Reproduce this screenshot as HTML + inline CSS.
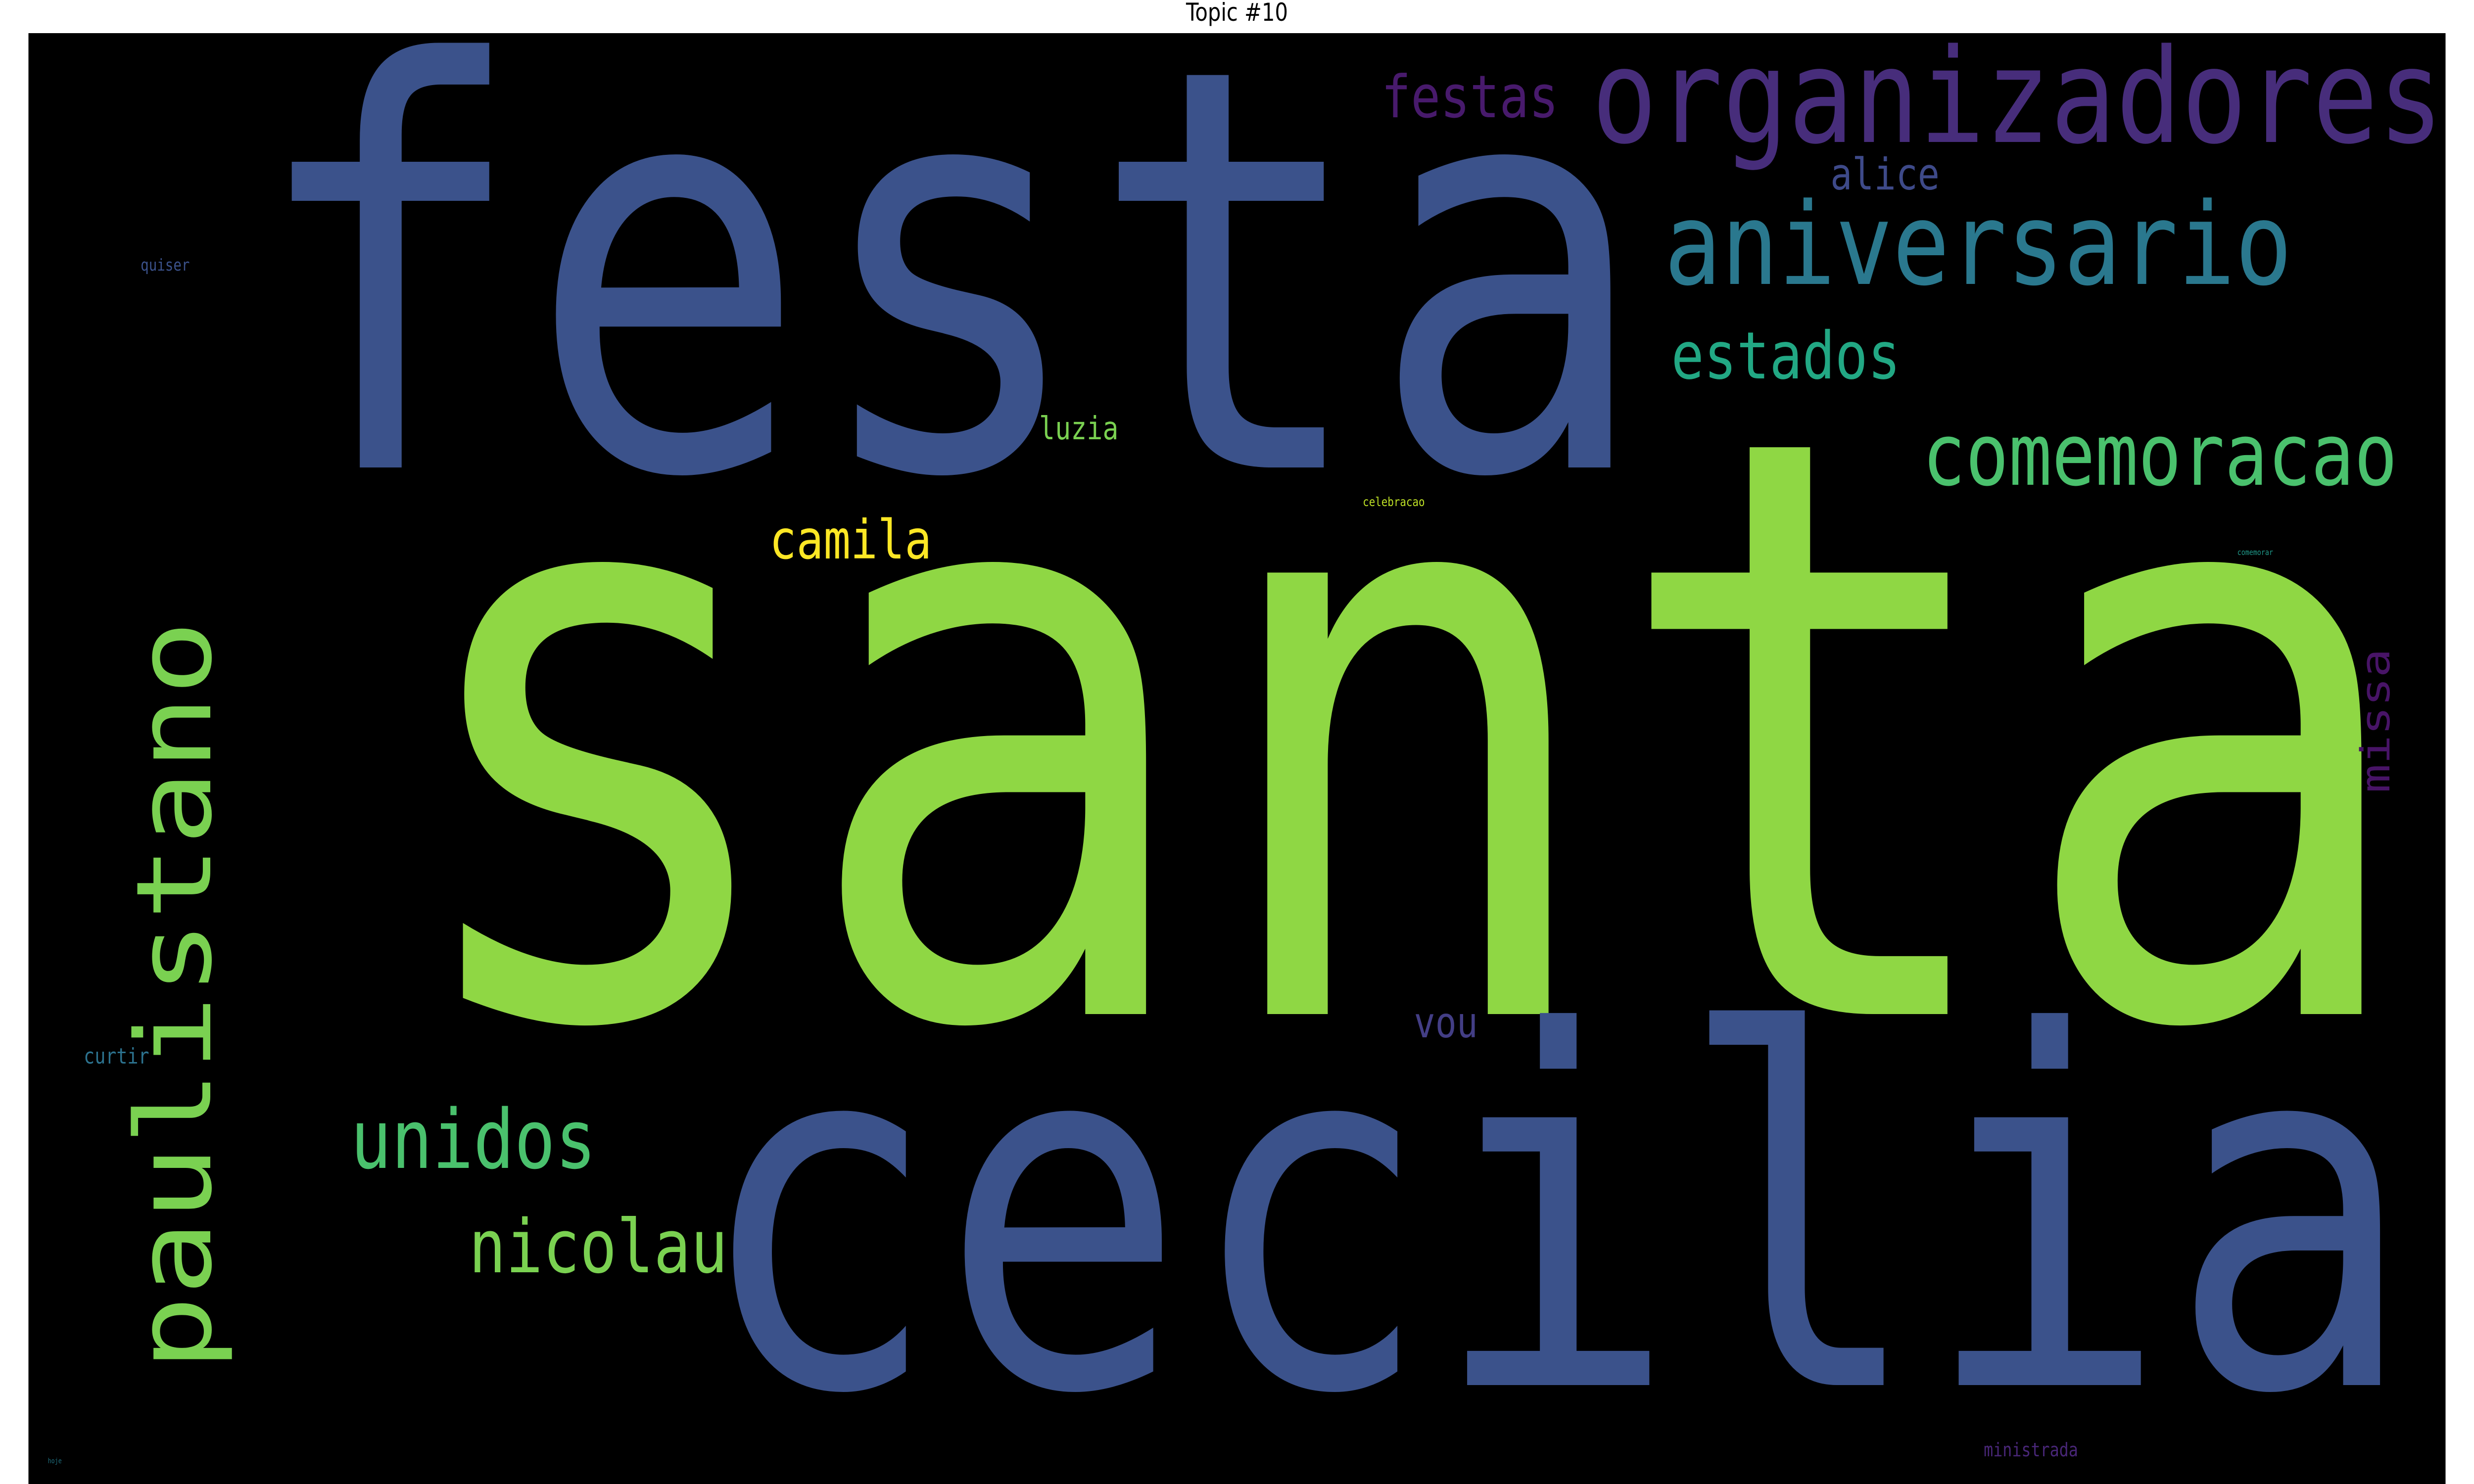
<!DOCTYPE html>
<html>
<head>
<meta charset="utf-8">
<style>
  html, body { margin: 0; padding: 0; background: #ffffff; width: 100vw; height: 100vh; overflow: hidden; }
  svg { display: block; width: 100vw; height: 100vh; }
</style>
</head>
<body>
<svg id="chart" xmlns="http://www.w3.org/2000/svg" viewBox="0 0 6000 3000" preserveAspectRatio="none" overflow="hidden">
  <rect x="0" y="0" width="6000" height="3000" fill="#ffffff"></rect>
  <text x="3000" y="42" text-anchor="middle" font-family="'DejaVu Sans', 'Liberation Sans', sans-serif" font-size="50" fill="#000000">Topic #10</text>
  <rect x="69" y="67" width="5862" height="2933" fill="#000000"></rect>
  <g id="words"></g>
</svg>
<script>
const words = ["festa","santa","cecilia","organizadores","festas","aniversario","alice","estados","luzia","comemoracao","camila","celebracao","comemorar","quiser","paulistano","unidos","nicolau","vou","missa","curtir","ministrada","hoje"];
const sizes = [1130,1632,990,264,119,230,88,132,64,174,109,25,16,33,252,165,149,86,97,44,38,14];
const xs = [600,953,1684,3860,3350,4036,4439,4053,2520,4662,1866,3305,5426,341,510,850,1137,3429,5795,203,4811,116];
const ys = [945,2050,2800,287,237,574,383,765,888,980,1129,1023,1122,547,2771,2361,2572,2097,1603,2150,2944,2958];
const rotations = [0,0,0,0,0,0,0,0,0,0,0,0,0,0,-90,0,0,0,-90,0,0,0];
const colors = ["#3b528b","#8fd744","#3b528b","#472d7b","#481a6c","#2a788e","#3e4a89","#22a884","#7ad151","#4ac16d","#fde725","#bddf26","#1f9a8a","#3b528b","#7ad151","#4ac16d","#7ad151","#433e85","#481467","#2c728e","#482677","#1f6e7e"];

const NS = "http://www.w3.org/2000/svg";
const g = document.getElementById("words");
for (let i = 0; i < words.length; i++) {
  const t = document.createElementNS(NS, "text");
  t.setAttribute("x", xs[i]);
  t.setAttribute("y", ys[i]);
  if (rotations[i] !== 0) {
    t.setAttribute("transform", "rotate(" + rotations[i] + " " + xs[i] + " " + ys[i] + ")");
  }
  t.setAttribute("font-family", "'DejaVu Sans Mono', 'Liberation Mono', monospace");
  t.setAttribute("font-size", sizes[i]);
  t.setAttribute("fill", colors[i]);
  t.textContent = words[i];
  
  
  g.appendChild(t);
}
</script>
</body>
</html>
